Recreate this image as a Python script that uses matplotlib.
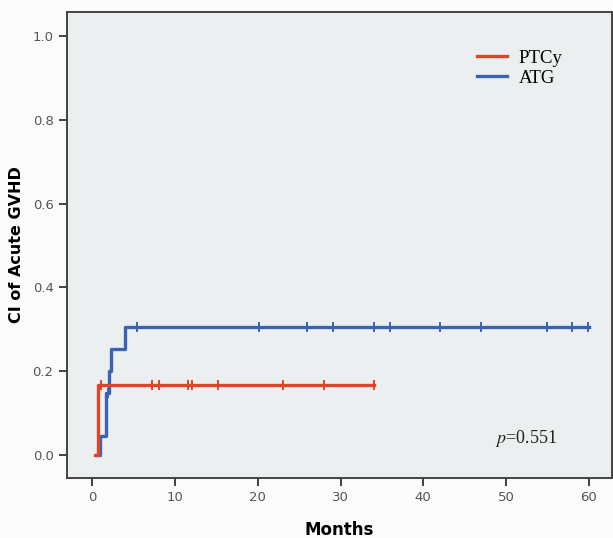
import matplotlib
matplotlib.use('Agg')
import matplotlib.pyplot as plt
import numpy as np

matplotlib.rcParams['mathtext.fontset'] = 'stix'

# step data (months, cumulative incidence)
ptcy_t = [0.25, 0.65, 34.1]
ptcy_ci = [0.0, 0.167, 0.167]
ptcy_cens = [1.0, 7.2, 8.1, 11.5, 12.0, 15.2, 23.1, 28.0, 34.1]

atg_t = [0.6, 0.93, 1.65, 2.0, 2.3, 3.9, 60.0]
atg_ci = [0.0, 0.045, 0.148, 0.2, 0.252, 0.305, 0.305]
atg_cens = [1.9, 5.4, 20.1, 26.0, 29.1, 34.0, 36.0, 42.0, 47.0, 55.0, 58.0, 59.9]

red = '#e2432a'
blue = '#3b63b3'

fig = plt.figure(figsize=(6.13, 5.38), dpi=100)
fig.patch.set_facecolor('#fbfbfb')
ax = fig.add_axes([0.109, 0.1115, 0.889, 0.8662])
ax.set_facecolor('#eceff0')


def cens_y(t, xs, ys):
    idx = np.searchsorted(xs, t, side='right') - 1
    return ys[max(idx, 0)]


ax.step(ptcy_t, ptcy_ci, where='post', color=red, lw=2.4, label='PTCy', zorder=3)
ax.step(atg_t, atg_ci, where='post', color=blue, lw=2.4, label='ATG', zorder=2)
ax.plot(ptcy_cens, [cens_y(t, ptcy_t, ptcy_ci) for t in ptcy_cens], ls='none',
        marker='|', ms=6.5, mew=1.4, color=red, zorder=3)
ax.plot(atg_cens, [cens_y(t, atg_t, atg_ci) for t in atg_cens], ls='none',
        marker='|', ms=6.5, mew=1.4, color=blue, zorder=2)

ax.set_xlim(-3.1, 62.8)
ax.set_ylim(-0.055, 1.057)
ax.set_xticks(np.arange(0, 61, 10))
ax.set_yticks(np.arange(0, 1.01, 0.2))
ax.set_yticklabels(['%.1f' % v for v in np.arange(0, 1.01, 0.2)])
ax.tick_params(direction='out', length=6, width=1.3, color='#333333',
               labelsize=9.5, labelcolor='#555555')
for s in ax.spines.values():
    s.set_color('#444444')
    s.set_linewidth(1.4)

ax.set_ylabel('CI of Acute GVHD', fontsize=11.5, fontweight='bold', labelpad=6)
ax.set_xlabel('Months', fontsize=12, fontweight='bold', labelpad=12)

leg = ax.legend(loc='upper right', bbox_to_anchor=(0.94, 0.955), frameon=False,
                prop={'family': 'Liberation Serif', 'size': 13.5},
                handlelength=1.6, handletextpad=0.6, labelspacing=0.15)

ax.text(0.785, 0.075, r'$p$=0.551', transform=ax.transAxes,
        fontsize=13, family='Liberation Serif', color='#222222')

fig.savefig('out.png', dpi=100, facecolor=fig.get_facecolor())
